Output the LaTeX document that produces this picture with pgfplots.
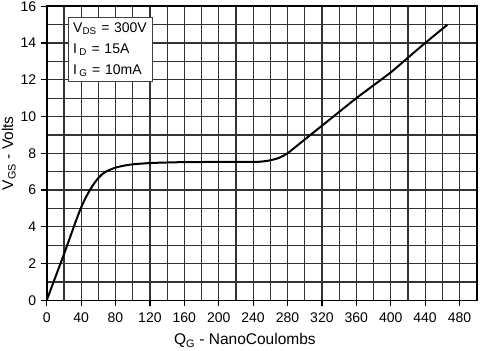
\documentclass[border=0pt]{standalone}
\usepackage{pgfplots}
\pgfplotsset{compat=1.18}
\usepackage{fontspec}
\setmainfont{Liberation Sans}
\begin{document}
\begin{tikzpicture}
\begin{axis}[
  scale only axis, width=430pt, height=294pt,
  xmin=0, xmax=500, ymin=0, ymax=16,
  xtick={0,40,...,480}, ytick={0,2,...,16},
  minor xtick={20,60,...,500}, minor ytick={1,3,...,15},
  grid=both,
  major grid style={line width=1.2pt, black!80},
  minor grid style={line width=1.2pt, black!80},
  axis line style={line width=1.6pt, black},
  tick align=outside, tick pos=left,
  major tick length=6pt, minor tick length=0pt,
  tick style={line width=1.2pt, black},
  ticklabel style={font=\fontsize{14}{16}\selectfont},
  xticklabel style={yshift=-3pt},
  yticklabel style={xshift=-1pt},
  /pgf/number format/assume math mode=true,
  xlabel={Q\textsubscript{G} - NanoCoulombs},
  ylabel={V\textsubscript{GS} - Volts},
  label style={font=\fontsize{15.5}{17}\selectfont},
  xlabel style={at={(ticklabel cs:0.461)}, anchor=north, yshift=-4pt},
  ylabel style={yshift=-2pt},
]
\addplot[black, line width=2pt, smooth, tension=0.4] coordinates {
(0,0) (10,1.25) (20,2.5) (30,3.8) (35,4.45) (40,5.05) (45,5.55) (50,5.98) (55,6.35) (60,6.65) (65,6.88) (70,7.03) (80,7.22) (90,7.33) (100,7.4) (120,7.47) (140,7.5) (160,7.52) (200,7.53) (240,7.53) (250,7.55) (260,7.62) (270,7.75) (280,8.0) (300,8.75) (320,9.5) (340,10.25) (360,11.0) (380,11.7) (400,12.4) (420,13.2) (440,14.0) (466,15.0)
};
\node[draw=black!75, line width=1pt, fill=white, anchor=north west, align=left,
      font=\fontsize{14}{21}\selectfont, inner xsep=5pt, inner ysep=4pt,
      text width=74pt, minimum height=64pt] at (axis cs:24.4,15.42)
  {V\textsubscript{DS} = 300V\\I\,\textsubscript{D} = 15A\\I\,\textsubscript{G} = 10mA};
\end{axis}
\pgfresetboundingbox
\path ([shift={(-46.7pt,-49.7pt)}]current axis.south west) rectangle ([shift={(5.3pt,6.3pt)}]current axis.north east);
\end{tikzpicture}
\end{document}
